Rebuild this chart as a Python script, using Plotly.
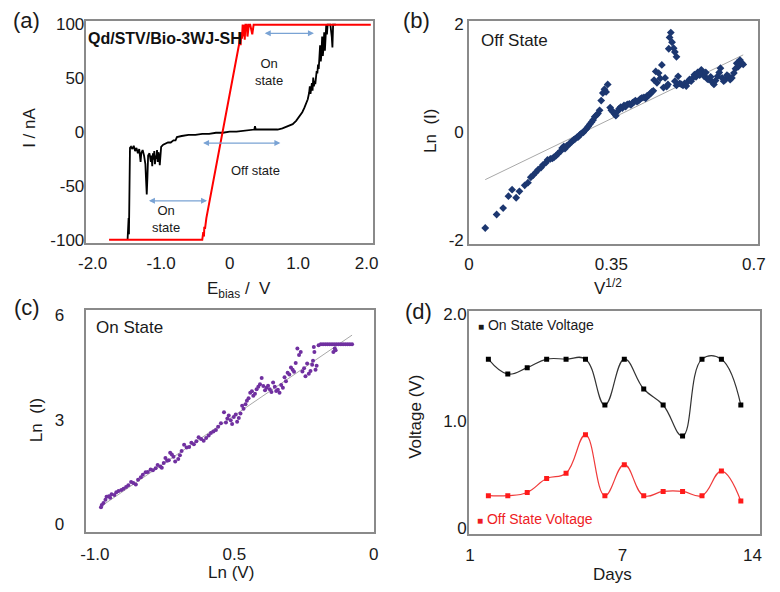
import plotly.graph_objects as go

# ---------------- data ----------------
# (a) I-V curves
black_x = [-1.490, -1.485, -1.480, -1.475, -1.470, -1.465, -1.460, -1.455, -1.440, -1.420, -1.400, -1.380, -1.360, -1.340,
           -1.320, -1.300, -1.290, -1.270, -1.250, -1.230, -1.220, -1.210, -1.200, -1.190, -1.170, -1.150, -1.140, -1.130,
           -1.120, -1.110, -1.100, -1.090, -1.080, -1.070, -1.060, -1.050, -1.040, -1.030, -1.020, -1.010, -1.000, -0.970,
           -0.930, -0.900, -0.860, -0.820, -0.790, -0.770, -0.700, -0.600, -0.500, -0.400, -0.300, -0.200, -0.100, 0.000,
           0.100, 0.200, 0.300, 0.360, 0.370, 0.380, 0.500, 0.600, 0.700, 0.770, 0.850, 0.920, 0.970, 1.020, 1.060, 1.090,
           1.120, 1.140, 1.160, 1.170, 1.180, 1.190, 1.200, 1.210, 1.220, 1.230, 1.240, 1.250, 1.260, 1.270, 1.280, 1.290,
           1.300, 1.310, 1.320, 1.330, 1.340, 1.350, 1.360, 1.370, 1.380, 1.390, 1.400, 1.410, 1.420, 1.430, 1.450, 1.470,
           1.490, 1.500, 1.510, 1.550]
black_y = [-100, -85, -100, -80, -95, -70, -40, -15, -14, -16, -13, -18, -15, -20,
           -16, -28, -20, -17, -22, -30, -45, -58, -42, -22, -20, -28, -22, -32,
           -20, -26, -18, -30, -22, -25, -17, -28, -19, -22, -31, -20, -14, -12,
           -11, -10, -10, -8, -8, -5, -4, -3, -3, -2, -2, -1, -1, 0,
           0, 1, 2, 2, 5, 2, 2, 2, 2, 3, 5, 7, 10, 14, 18, 22,
           27, 30, 36, 42, 35, 40, 45, 38, 50, 42, 47, 44, 52, 56, 54, 62,
           58, 68, 80, 65, 72, 88, 70, 78, 92, 75, 85, 99, 90, 99, 99, 99,
           88, 78, 99, 99]
red_x = [-1.76, -0.40, -0.385, -0.375, -0.37, -0.36, -0.34, -0.31, -0.28, -0.25, -0.22, -0.19, -0.16, -0.13,
         -0.10, -0.07, -0.04, -0.01, 0.02, 0.05, 0.08, 0.10, 0.12, 0.14, 0.15, 0.16, 0.17, 0.18, 0.19, 0.20,
         0.21, 0.22, 0.23, 0.25, 0.26, 0.28, 0.30, 0.33, 0.35, 2.06]
red_y = [-100, -100, -93, -97, -88, -90, -80, -70, -60, -50, -40, -30, -20, -11,
         -1, 9, 19, 29, 39, 49, 59, 66, 72, 78, 85, 80, 92, 86, 99, 88,
         99, 85, 99, 99, 88, 99, 99, 90, 99, 99]

# (b) Off state: Ln(I) vs V^1/2
off_x = [0.040, 0.068, 0.084, 0.097, 0.106, 0.116, 0.124, 0.137, 0.145, 0.152, 0.158, 0.164, 0.170, 0.177, 0.182,
         0.189, 0.193, 0.200, 0.205, 0.209, 0.214, 0.219, 0.225, 0.229, 0.233, 0.236, 0.240, 0.245, 0.249, 0.253,
         0.257, 0.261, 0.265, 0.269, 0.273, 0.276, 0.281, 0.285, 0.289, 0.293, 0.297, 0.301, 0.305, 0.309, 0.313,
         0.317, 0.321, 0.325, 0.329, 0.333, 0.337, 0.341, 0.347, 0.350, 0.354, 0.358, 0.361, 0.365, 0.369, 0.373,
         0.377, 0.381, 0.385, 0.389, 0.394, 0.398, 0.402, 0.405, 0.409, 0.413, 0.417, 0.421, 0.425, 0.430, 0.434,
         0.438, 0.442, 0.446, 0.449, 0.453, 0.455, 0.459, 0.462, 0.466, 0.470, 0.474, 0.478, 0.482, 0.486, 0.489,
         0.491, 0.493, 0.496, 0.499, 0.503, 0.506, 0.510, 0.506, 0.510, 0.514, 0.518, 0.522, 0.526, 0.530, 0.534,
         0.538, 0.542, 0.546, 0.550, 0.554, 0.558, 0.562, 0.567, 0.571, 0.574, 0.578, 0.582, 0.586, 0.590, 0.594,
         0.598, 0.602, 0.606, 0.611, 0.615, 0.618, 0.622, 0.626, 0.630, 0.634, 0.638, 0.642, 0.646, 0.651, 0.655,
         0.658, 0.662, 0.666, 0.670, 0.674]
off_y = [-1.78, -1.53, -1.41, -1.19, -1.07, -1.22, -1.10, -0.99, -0.94, -0.84, -0.80, -0.75, -0.70, -0.66, -0.61,
         -0.57, -0.52, -0.50, -0.49, -0.47, -0.44, -0.40, -0.36, -0.30, -0.27, -0.31, -0.26, -0.24, -0.20, -0.18,
         -0.15, -0.13, -0.10, -0.09, -0.05, -0.03, -0.01, 0.03, 0.06, 0.10, 0.14, 0.18, 0.22, 0.28, 0.31,
         0.34, 0.40, 0.58, 0.72, 0.79, 0.74, 0.88, 0.45, 0.40, 0.37, 0.33, 0.30, 0.38, 0.43, 0.46,
         0.44, 0.49, 0.47, 0.51, 0.52, 0.50, 0.54, 0.55, 0.58, 0.56, 0.58, 0.61, 0.63, 0.64, 0.62,
         0.67, 0.68, 0.71, 0.74, 0.76, 0.96, 1.12, 0.91, 1.09, 0.99, 1.24, 0.82, 1.00, 0.84, 0.88,
         1.54, 1.75, 1.84, 1.66, 1.55, 1.48, 1.39, 0.94, 0.86, 1.03, 0.90, 0.88, 0.86, 0.90, 0.85,
         0.93, 0.97, 0.94, 1.00, 1.06, 1.02, 1.10, 1.05, 1.15, 1.08, 1.03, 1.10, 0.98, 0.97, 1.02,
         0.92, 0.88, 0.95, 1.03, 1.10, 1.18, 1.00, 0.94, 0.97, 1.05, 1.03, 0.97, 1.00, 1.09, 1.17,
         1.27, 1.21, 1.33, 1.28, 1.25]
off_fit = [3.645, -1.03]  # slope, intercept of the grey trend line

# (c) On state: Ln(I) vs Ln(V)
on_x = [-0.978, -0.969, -0.958, -0.940, -0.923, -0.905, -0.888, -0.870, -0.853, -0.835, -0.818, -0.800, -0.782,
        -0.765, -0.753, -0.741, -0.730, -0.718, -0.701, -0.689, -0.671, -0.654, -0.636, -0.619, -0.601, -0.584,
        -0.566, -0.548, -0.537, -0.525, -0.513, -0.502, -0.490, -0.478, -0.467, -0.455, -0.443, -0.432, -0.420,
        -0.408, -0.396, -0.385, -0.373, -0.361, -0.350, -0.338, -0.326, -0.315, -0.303, -0.291, -0.280, -0.274,
        -0.268, -0.256, -0.245, -0.233, -0.221, -0.215, -0.209, -0.198,
        -0.975, -0.962, -0.950, -0.945, -0.930, -0.915, -0.897, -0.880, -0.862, -0.845, -0.828, -0.810, -0.792,
        -0.775, -0.760, -0.747, -0.735, -0.724, -0.712, -0.695, -0.680, -0.662, -0.645, -0.628, -0.610, -0.592,
        -0.575, -0.558, -0.530, -0.520, -0.508, -0.495, -0.484, -0.472, -0.460, -0.449, -0.437, -0.426, -0.414,
        -0.402, -0.390, -0.379, -0.367, -0.355, -0.344, -0.332, -0.320, -0.309, -0.297, -0.286, -0.262, -0.250,
        -0.239, -0.227, -0.218, -0.213, -0.205,
        -0.190, -0.182, -0.174, -0.166, -0.158, -0.150, -0.142, -0.134, -0.126, -0.118, -0.110, -0.102, -0.094,
        -0.086, -0.078, -0.145, -0.140, -0.137]
on_y = [0.49, 0.61, 0.79, 0.86, 0.92, 0.98, 1.07, 1.21, 1.14, 1.35, 1.49, 1.57, 1.61,
        1.66, 1.76, 1.82, 2.05, 1.94, 1.87, 2.10, 2.20, 2.34, 2.38, 2.45, 2.48, 2.62,
        2.71, 2.90, 3.22, 3.04, 2.99, 3.08, 2.94, 3.18, 3.32, 3.55, 3.78, 3.69, 3.88,
        4.02, 3.97, 3.92, 3.88, 4.07, 3.83, 3.78, 3.92, 4.11, 4.30, 4.44, 4.63, 5.05,
        4.86, 4.39, 4.25, 4.32, 4.58, 5.09, 4.44, 5.14,
        0.55, 0.70, 0.80, 0.76, 0.84, 0.95, 1.02, 1.12, 1.18, 1.28, 1.42, 1.50, 1.55,
        1.70, 1.62, 1.90, 1.84, 2.00, 1.80, 1.98, 2.28, 2.22, 2.30, 2.50, 2.40, 2.55,
        2.66, 2.80, 2.92, 3.12, 2.88, 3.15, 3.05, 3.40, 3.45, 3.62, 3.82, 3.75, 3.95,
        4.20, 3.85, 3.98, 3.80, 3.95, 3.86, 4.00, 4.22, 4.35, 4.50, 4.38, 4.95, 4.48,
        4.62, 4.40, 4.70, 4.95, 4.55,
        5.17, 5.17, 5.17, 5.17, 5.17, 5.17, 5.17, 5.17, 5.17, 5.17, 5.17, 5.17, 5.17,
        5.17, 5.17, 4.95, 5.05, 5.00]
on_fit = [5.47, 5.86]  # slope, intercept

# (d) stability over days
days = [1, 2, 3, 4, 5, 6, 7, 8, 9, 10, 11, 12, 13, 14]
on_voltage = [1.58, 1.44, 1.50, 1.58, 1.58, 1.58, 1.15, 1.58, 1.30, 1.15, 0.86, 1.58, 1.58, 1.15]
off_voltage = [0.30, 0.30, 0.33, 0.46, 0.51, 0.87, 0.30, 0.59, 0.30, 0.34, 0.34, 0.30, 0.53, 0.25]

# ---------------- figure ----------------
W, H = 780, 592
FONT = "Liberation Sans, Arial, Helvetica, sans-serif"


def px(x):
    return x / W


def py(y):
    return 1 - y / H


fig = go.Figure()

fig.add_trace(go.Scatter(x=black_x, y=black_y, mode="lines", line=dict(color="black", width=1.8),
                         xaxis="x", yaxis="y", hoverinfo="skip"))
fig.add_trace(go.Scatter(x=red_x, y=red_y, mode="lines", line=dict(color="#ff0000", width=2),
                         xaxis="x", yaxis="y", hoverinfo="skip"))

bx0, bx1 = min(off_x), max(off_x)
fig.add_trace(go.Scatter(x=[bx0, bx1], y=[off_fit[0] * bx0 + off_fit[1], off_fit[0] * bx1 + off_fit[1]],
                         mode="lines", line=dict(color="#a8a8a8", width=1), xaxis="x2", yaxis="y2"))
fig.add_trace(go.Scatter(x=off_x, y=off_y, mode="markers",
                         marker=dict(symbol="diamond", size=6, color="#1c3770"), xaxis="x2", yaxis="y2"))

cx0, cx1 = min(on_x), max(on_x)
fig.add_trace(go.Scatter(x=[cx0, cx1], y=[on_fit[0] * cx0 + on_fit[1], on_fit[0] * cx1 + on_fit[1]],
                         mode="lines", line=dict(color="#a8a8a8", width=1), xaxis="x3", yaxis="y3"))
fig.add_trace(go.Scatter(x=on_x, y=on_y, mode="markers",
                         marker=dict(symbol="circle", size=4, color="#7030a0"), xaxis="x3", yaxis="y3"))

fig.add_trace(go.Scatter(x=days, y=on_voltage, mode="lines+markers",
                         line=dict(color="#333333", width=1.2, shape="spline", smoothing=1.2),
                         marker=dict(symbol="square", size=5, color="black"), xaxis="x4", yaxis="y4"))
fig.add_trace(go.Scatter(x=days, y=off_voltage, mode="lines+markers",
                         line=dict(color="#f03a3a", width=1.2, shape="spline", smoothing=1.2),
                         marker=dict(symbol="square", size=5, color="#ff1a1a"), xaxis="x4", yaxis="y4"))


def axis(domain, rng, tickvals, ticktext, anchor, size=17, standoff=0):
    return dict(domain=domain, range=rng, tickvals=tickvals, ticktext=ticktext, anchor=anchor,
                showline=True, mirror=True, linecolor="#8a8a8a", linewidth=1.5,
                showgrid=False, zeroline=False, ticks="", fixedrange=True,
                ticklabelstandoff=standoff,
                tickfont=dict(family=FONT, size=size, color="#1a1a1a"))


layout = dict(
    width=W, height=H, margin=dict(l=0, r=0, t=0, b=0),
    paper_bgcolor="white", plot_bgcolor="white", showlegend=False,
    font=dict(family=FONT, color="#1a1a1a"),
    xaxis=axis([px(80), px(372)], [-2.09, 2.09], [-2, -1, 0, 1, 2], ["-2.0", "-1.0", "0", "1.0", "2.0"], "y",
               standoff=4),
    yaxis=axis([py(242), py(15)], [-102.7, 102.7], [-100, -50, 0, 50, 100], ["-100", "-50", "0", "50", "100"], "x",
               standoff=-3),
    xaxis2=axis([px(470), px(765)], [0, 0.711], [0, 0.35, 0.7], ["0", "0.35", "0.7"], "y2", standoff=4),
    yaxis2=axis([py(243), py(15)], [-2.07, 2.06], [-2, 0, 2], ["-2", "0", "2"], "x2", standoff=0),
    xaxis3=axis([px(80), px(373)], [-1.03, 0], [-1, -0.5, 0], ["-1.0", "0.5", "0"], "y3", standoff=6),
    yaxis3=axis([py(538), py(311)], [-0.23, 6.15], [0, 3, 6], ["0", "3", "6"], "x3", standoff=17),
    xaxis4=axis([px(470), px(767)], [0, 15], [0.05, 7.9, 14.6], ["1", "7", "14"], "y4", standoff=5),
    yaxis4=axis([py(540), py(312)], [-0.061, 2.03], [0, 1, 2], ["0", "1.0", "2.0"], "x4", standoff=-3),
)
fig.update_layout(**layout)

ann = []


def text(x, y, t, size=16, color="#1a1a1a", angle=0, xanchor="center", yanchor="middle", bold=False):
    if bold:
        t = "<b>" + t + "</b>"
    ann.append(dict(x=px(x), y=py(y), xref="paper", yref="paper", text=t, showarrow=False,
                    textangle=angle, xanchor=xanchor, yanchor=yanchor,
                    font=dict(family=FONT, size=size, color=color)))


# panel letters
text(19, 15, "(a)", 22)
text(417, 15, "(b)", 22)
text(19, 308, "(c)", 22)
text(419, 312, "(d)", 22)

# axis titles
text(22, 125, "I / nA", 17, angle=-90)
text(236, 290, "E<sub>bias</sub> /  V", 17)
text(430, 128, "Ln  (I)", 17, angle=-90)
text(612, 287, "V<sup>1/2</sup>", 17)
text(29, 423, "Ln  (I)", 17, angle=-90)
text(227, 579, "Ln (V)", 17)
text(416, 420, "Voltage (V)", 17, angle=-90)
text(616, 581, "Days", 17)

# in-plot texts
text(80, 33, "Qd/STV/Bio-3WJ-SH", 16, xanchor="left", bold=True, color="#111111")
text(266, 67, "On<br>state", 13)
text(252, 168, "Off state", 13)
text(161, 218, "On<br>state", 13)
text(480, 35, "Off State", 17, xanchor="left")
text(88, 329, "On State", 17, xanchor="left")
text(477, 326, "<span style='font-size:10px'>■</span> On State Voltage", 14, xanchor="left")
text(476, 525, "<span style='font-size:10px'>■</span> Off State Voltage", 14, xanchor="left", color="#ee1c25")

# double-headed arrows in panel (a)
for (x0, x1, yv) in [(0.49, 1.23, 91), (-0.41, 0.74, -10.5), (-1.20, -0.33, -64)]:
    ann.append(dict(x=x1, y=yv, ax=x0, ay=yv, xref="x", yref="y", axref="x", ayref="y", text="",
                    showarrow=True, arrowhead=2, startarrowhead=2, arrowside="end+start",
                    arrowsize=1, startarrowsize=1, arrowwidth=1.2, arrowcolor="#7aa3d4"))

fig.update_layout(annotations=ann)
fig.write_html("out.html", config={"displayModeBar": False},
               post_script="document.body.style.margin='0';document.body.style.padding='0';")
